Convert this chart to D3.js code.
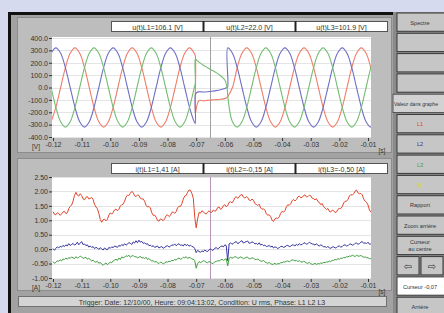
<!DOCTYPE html>
<html>
<head>
<meta charset="utf-8">
<script src="https://cdn.jsdelivr.net/npm/d3@7"></script>
<style>
  body { margin: 0; background: #d6daee; }
  svg { display: block; font-family: "Liberation Sans", Arial, sans-serif; }
</style>
</head>
<body>
<svg width="444" height="313"></svg>
<script>
const svg = d3.select("svg");
const width = +svg.attr("width");
const height = +svg.attr("height");

// ---- voltages (time in ms, value in V) ----
const uTimeMs = [
  -120.67, -119, -117.33, -115.67, -114, -112.33, -110.67, -109, -107.33, -105.67, -104, -102.33,
  -100.67, -99, -97.33, -95.67, -94, -92.33, -90.67, -89, -87.33, -85.67, -84, -82.33,
  -80.67, -79, -77.33, -75.67, -74, -72.33, -70.67,
  -70.3, -70.3, -69.8, -69, -67.5, -66, -64.5, -63, -61.5, -60, -59.3, -59, -59,
  -57.33, -55.67, -54, -52.33, -50.67, -49, -47.33, -45.67, -44, -42.33, -40.67, -39,
  -37.33, -35.67, -34, -32.33, -30.67, -29, -27.33, -25.67, -24, -22.33, -20.67, -19,
  -17.33, -15.67, -14, -12.33, -10.67, -9, -7.33
];
const uL1 = [
  -277, -160, 0, 160, 277, 320, 277, 160, 0, -160, -277, -320,
  -277, -160, 0, 160, 277, 320, 277, 160, 0, -160, -277, -320,
  -277, -160, 0, 160, 277, 320, 277,
  255, -210, -150, -105, -108, -104, -100, -98, -95, -90, -80, -75, -75,
  0, 160, 277, 320, 277, 160, 0, -160, -277, -320, -277, -160,
  0, 160, 277, 320, 277, 160, 0, -160, -277, -320, -277, -160,
  0, 160, 277, 320, 277, 160, 0
];
const uL2 = [
  277, 320, 277, 160, 0, -160, -277, -320, -277, -160, 0, 160,
  277, 320, 277, 160, 0, -160, -277, -320, -277, -160, 0, 160,
  277, 320, 277, 160, 0, -160, -277,
  -290, -60, -40, -35, -36, -34, -30, -25, -18, -8, 0, 5, 320,
  277, 160, 0, -160, -277, -320, -277, -160, 0, 160, 277, 320,
  277, 160, 0, -160, -277, -320, -277, -160, 0, 160, 277, 320,
  277, 160, 0, -160, -277, -320, -277
];
const uL3 = [
  0, -160, -277, -320, -277, -160, 0, 160, 277, 320, 277, 160,
  0, -160, -277, -320, -277, -160, 0, 160, 277, 320, 277, 160,
  0, -160, -277, -320, -277, -160, 0,
  35, 230, 220, 205, 180, 160, 140, 120, 95, 60, 10, -60, -60,
  -277, -320, -277, -160, 0, 160, 277, 320, 277, 160, 0, -160,
  -277, -320, -277, -160, 0, 160, 277, 320, 277, 160, 0, -160,
  -277, -320, -277, -160, 0, 160, 277
];

// ---- currents, one sample every 0.5 ms from iStartMs (value in A) ----
const iStartMs = -120;
const iStepMs = 0.5;
const iL1 = [
  1.30, 1.21, 1.19, 1.26, 1.24, 1.17, 1.22, 1.29, 1.31, 1.23, 1.26, 1.40, 1.48, 1.53, 1.66, 1.86,
  1.97, 1.87, 1.84, 1.92, 1.86, 1.74, 1.71, 1.80, 1.82, 1.74, 1.76, 1.79, 1.73, 1.55, 1.46, 1.40,
  1.24, 1.03, 0.93, 1.02, 1.04, 0.98, 1.03, 1.18, 1.26, 1.21, 1.27, 1.36, 1.39, 1.33, 1.38, 1.49,
  1.54, 1.56, 1.66, 1.80, 1.87, 1.86, 1.93, 2.00, 1.96, 1.85, 1.82, 1.88, 1.86, 1.76, 1.74, 1.74,
  1.66, 1.52, 1.46, 1.48, 1.43, 1.26, 1.17, 1.18, 1.11, 0.99, 0.97, 1.05, 1.02, 0.99, 1.05, 1.16,
  1.19, 1.13, 1.17, 1.27, 1.29, 1.24, 1.30, 1.43, 1.49, 1.48, 1.57, 1.74, 1.84, 1.86, 1.97, 2.05,
  2.04, 1.93, 1.76, 1.10, 0.74, 1.05, 1.27, 1.25, 1.33, 1.30, 1.24, 1.22, 1.28, 1.33, 1.27, 1.28,
  1.36, 1.31, 1.34, 1.44, 1.46, 1.38, 1.41, 1.51, 1.54, 1.47, 1.51, 1.62, 1.64, 1.60, 1.67, 1.78,
  1.82, 1.76, 1.81, 1.88, 1.89, 1.80, 1.77, 1.82, 1.79, 1.70, 1.68, 1.74, 1.69, 1.58, 1.55, 1.51,
  1.56, 1.43, 1.38, 1.40, 1.35, 1.22, 1.18, 1.19, 1.13, 1.00, 0.96, 1.05, 1.08, 1.06, 1.12, 1.24,
  1.31, 1.28, 1.33, 1.47, 1.54, 1.52, 1.57, 1.68, 1.72, 1.67, 1.72, 1.81, 1.84, 1.78, 1.79, 1.86,
  1.88, 1.81, 1.82, 1.87, 1.85, 1.76, 1.75, 1.71, 1.75, 1.65, 1.62, 1.54, 1.58, 1.47, 1.42, 1.37,
  1.41, 1.31, 1.29, 1.35, 1.33, 1.27, 1.29, 1.38, 1.41, 1.41, 1.47, 1.60, 1.66, 1.66, 1.72, 1.84,
  1.89, 1.87, 1.92, 2.01, 2.05, 1.95, 1.92, 1.93, 1.88, 1.74, 1.66, 1.62, 1.53, 1.36, 1.28
];
const iL2 = [
  0.02, -0.04, 0.03, 0.08, 0.04, 0.10, 0.07, 0.13, 0.09, 0.15, 0.11, 0.19, 0.13, 0.16, 0.20, 0.14,
  0.17, 0.24, 0.15, 0.21, 0.26, 0.16, 0.18, 0.12, 0.15, 0.07, 0.11, 0.06, 0.09, 0.02, 0.06, 0.04,
  -0.01, 0.05, 0.01, -0.03, 0.04, 0.00, -0.02, 0.06, 0.03, 0.08, 0.05, 0.11, 0.09, 0.06, 0.13, 0.10,
  0.16, 0.12, 0.19, 0.14, 0.17, 0.23, 0.20, 0.16, 0.25, 0.21, 0.29, 0.22, 0.31, 0.24, 0.27, 0.20,
  0.22, 0.17, 0.19, 0.12, 0.14, 0.09, 0.12, 0.06, 0.08, 0.11, 0.04, 0.07, 0.09, 0.03, 0.06, 0.10,
  0.12, 0.07, 0.10, 0.15, 0.13, 0.18, 0.12, 0.16, 0.19, 0.13, 0.15, 0.11, 0.18, 0.12, 0.16, 0.10,
  0.14, 0.09, 0.08, 0.02, -0.12, -0.04, -0.08, -0.11, -0.06, -0.09, -0.03, -0.07, -0.08, -0.02, 0.01, -0.04,
  -0.03, 0.03, 0.05, 0.01, 0.04, 0.09, 0.11, 0.08, 0.15, 0.12, -0.40, 0.18, 0.22, 0.17, 0.20, 0.24,
  0.26, 0.19, 0.22, 0.27, 0.29, 0.21, 0.24, 0.26, 0.28, 0.20, 0.22, 0.25, 0.23, 0.18, 0.20, 0.16,
  0.22, 0.14, 0.17, 0.12, 0.14, 0.09, 0.10, 0.13, 0.07, 0.11, 0.04, 0.08, 0.06, 0.02, 0.05, 0.09,
  0.10, 0.06, 0.08, 0.12, 0.13, 0.09, 0.10, 0.15, 0.14, 0.11, 0.17, 0.13, 0.19, 0.15, 0.16, 0.21,
  0.22, 0.17, 0.19, 0.24, 0.21, 0.18, 0.17, 0.14, 0.19, 0.13, 0.11, 0.15, 0.12, 0.08, 0.09, 0.05,
  0.10, 0.04, 0.03, 0.07, 0.08, 0.04, 0.05, 0.10, 0.11, 0.07, 0.09, 0.14, 0.15, 0.11, 0.12, 0.17,
  0.18, 0.14, 0.15, 0.20, 0.21, 0.17, 0.19, 0.24, 0.26, 0.20, 0.22, 0.19, 0.24, 0.17, 0.18
];
const iL3 = [
  -0.43, -0.49, -0.46, -0.40, -0.42, -0.37, -0.41, -0.34, -0.36, -0.31, -0.35, -0.29, -0.32, -0.27, -0.30, -0.33,
  -0.26, -0.31, -0.29, -0.24, -0.27, -0.32, -0.30, -0.28, -0.35, -0.31, -0.37, -0.41, -0.38, -0.44, -0.45, -0.42,
  -0.49, -0.46, -0.52, -0.56, -0.51, -0.48, -0.54, -0.49, -0.45, -0.47, -0.41, -0.38, -0.35, -0.39, -0.31, -0.36,
  -0.27, -0.30, -0.28, -0.23, -0.25, -0.21, -0.28, -0.24, -0.22, -0.27, -0.26, -0.30, -0.28, -0.25, -0.31, -0.29,
  -0.33, -0.28, -0.36, -0.32, -0.38, -0.41, -0.40, -0.45, -0.43, -0.47, -0.50, -0.45, -0.47, -0.51, -0.48, -0.44,
  -0.45, -0.42, -0.43, -0.39, -0.40, -0.36, -0.38, -0.33, -0.31, -0.35, -0.33, -0.28, -0.30, -0.26, -0.32, -0.29,
  -0.30, -0.35, -0.34, -0.40, -0.66, -0.50, -0.43, -0.47, -0.44, -0.40, -0.42, -0.46, -0.47, -0.43, -0.45, -0.50,
  -0.49, -0.44, -0.43, -0.40, -0.41, -0.38, -0.35, -0.39, -0.36, -0.33, -0.58, -0.32, -0.28, -0.31, -0.30, -0.26,
  -0.27, -0.32, -0.30, -0.27, -0.29, -0.33, -0.31, -0.28, -0.28, -0.34, -0.33, -0.30, -0.31, -0.36, -0.36, -0.34,
  -0.38, -0.41, -0.42, -0.39, -0.44, -0.47, -0.49, -0.46, -0.50, -0.53, -0.52, -0.49, -0.53, -0.50, -0.51, -0.47,
  -0.47, -0.44, -0.45, -0.42, -0.41, -0.44, -0.40, -0.37, -0.38, -0.41, -0.39, -0.43, -0.40, -0.44, -0.45, -0.42,
  -0.44, -0.48, -0.49, -0.46, -0.50, -0.53, -0.52, -0.49, -0.53, -0.50, -0.51, -0.48, -0.49, -0.46, -0.47, -0.44,
  -0.45, -0.41, -0.43, -0.39, -0.39, -0.36, -0.37, -0.33, -0.35, -0.31, -0.32, -0.29, -0.30, -0.26, -0.27, -0.24,
  -0.25, -0.21, -0.23, -0.26, -0.21, -0.24, -0.24, -0.22, -0.25, -0.28, -0.27, -0.30, -0.30, -0.33, -0.33
];

// ---- ticks and labels ----
const timeTicks = [-0.12, -0.11, -0.10, -0.09, -0.08, -0.07, -0.06, -0.05, -0.04, -0.03, -0.02, -0.01];
const uTicks = [400, 300, 200, 100, 0, -100, -200, -300, -400];
const iTicks = [2.5, 2.0, 1.5, 1.0, 0.5, 0.0, -0.5, -1.0];
const uReadings = ["u(t)L1=106.1 [V]", "u(t)L2=22.0 [V]", "u(t)L3=101.9 [V]"];
const iReadings = ["i(t)L1=1,41 [A]", "i(t)L2=-0,15 [A]", "i(t)L3=-0,50 [A]"];
const cursorMs = -65.3;
const triggerText = "Trigger:  Date: 12/10/00,  Heure: 09:04:13:02,  Condition: U rms,  Phase: L1 L2 L3";
const buttonLabels = ["Spectre", "", "", "", "Valeur dans graphe", "L1", "L2", "L3", "N",
  "Rapport", "Zoom arrière", "Curseur|au centre", "", "Curseur -0,07", "Arrière"];

const phaseColor = {L1: "#e2452b", L2: "#34349e", L3: "#3f9f3f"};
const phaseColorLight = {L1: "#ef7d68", L2: "#6f6fc6", L3: "#72bd72"};

// ---- scales ----
const plotLeft = 52, plotRight = 371;
const x = d3.scaleLinear().domain([-120, -10]).range([53, 368]);
const yU = d3.scaleLinear().domain([-400, 400]).range([137, 38]);
const yI = d3.scaleLinear().domain([-1, 2.5]).range([278, 177]);

// ---- window chrome ----
svg.append("rect").attr("width", width).attr("height", height).attr("fill", "#d6daee");
svg.append("rect").attr("x", 8).attr("y", 12).attr("width", width - 8).attr("height", height - 12)
  .attr("fill", "#a2a2a2");
svg.append("path").attr("d", `M9.5,${height}V13.5H${width}`)
  .attr("fill", "none").attr("stroke", "#111").attr("stroke-width", 3);

svg.append("rect").attr("x", 17.5).attr("y", 17.5).attr("width", 374).attr("height", 135)
  .attr("fill", "#bdbdbd").attr("stroke", "#8c8c8c");
svg.append("rect").attr("x", 17.5).attr("y", 158.5).attr("width", 374).attr("height", 132)
  .attr("fill", "#bdbdbd").attr("stroke", "#8c8c8c");

function readingBoxes(labels, top) {
  const g = svg.append("g");
  labels.forEach((label, i) => {
    g.append("rect").attr("x", 111.5 + i * 92).attr("y", top + 0.5).attr("width", 92).attr("height", 10)
      .attr("fill", "#fff").attr("stroke", "#555");
    g.append("text").attr("x", 157.5 + i * 92).attr("y", top + 8.5).attr("text-anchor", "middle")
      .attr("font-size", 7).attr("fill", "#333").text(label);
  });
  g.selectAll("line").data([203, 295]).enter().append("line")
    .attr("x1", d => d + 0.5).attr("x2", d => d + 0.5).attr("y1", top).attr("y2", top + 11)
    .attr("stroke", "#222").attr("stroke-width", 2);
}
readingBoxes(uReadings, 21);
readingBoxes(iReadings, 163);

function plotFrame(y, top, bottom, ticks, fmt, unit, id) {
  const g = svg.append("g");
  g.append("rect").attr("x", plotLeft).attr("y", top).attr("width", plotRight - plotLeft)
    .attr("height", bottom - top).attr("fill", "#fff");
  g.append("clipPath").attr("id", id).append("rect")
    .attr("x", plotLeft).attr("y", top).attr("width", plotRight - plotLeft).attr("height", bottom - top);

  g.append("g").selectAll("line").data(ticks).enter().append("line")
    .attr("x1", plotLeft).attr("x2", plotRight)
    .attr("y1", d => Math.round(y(d)) + 0.5).attr("y2", d => Math.round(y(d)) + 0.5)
    .attr("stroke", "#e4e4e4");

  const ya = g.append("g").attr("transform", `translate(${plotLeft},0)`)
    .call(d3.axisLeft(y).tickValues(ticks).tickSize(3).tickPadding(1).tickFormat(fmt));
  const xa = g.append("g").attr("transform", `translate(0,${bottom})`)
    .call(d3.axisBottom(x).tickValues(timeTicks.map(t => t * 1000)).tickSize(3).tickPadding(1)
      .tickFormat(d => (d / 1000).toFixed(2)));
  [ya, xa].forEach(a => {
    a.select(".domain").remove();
    a.attr("font-size", 7).attr("font-family", null);
    a.selectAll("line").attr("stroke", "#333");
    a.selectAll("text").attr("fill", "#333");
  });

  g.append("text").attr("x", 36).attr("y", bottom + 11).attr("text-anchor", "middle")
    .attr("font-size", 6.5).attr("fill", "#333").text(unit);
  g.append("text").attr("x", 382).attr("y", bottom + 15).attr("text-anchor", "middle")
    .attr("font-size", 6.5).attr("fill", "#333").text("[s]");
  return g;
}

// ---- upper graph: voltages ----
const gU = plotFrame(yU, 37, 138, uTicks, d => d.toFixed(1), "[V]", "clipU");
gU.append("line").attr("x1", Math.round(x(cursorMs)) + 0.5).attr("x2", Math.round(x(cursorMs)) + 0.5)
  .attr("y1", 37).attr("y2", 138).attr("stroke", "#a0a0a0");
const uLine = d3.line().x((d, i) => x(uTimeMs[i])).y(d => yU(d)).curve(d3.curveCatmullRom.alpha(0.5));
[["L1", uL1], ["L2", uL2], ["L3", uL3]].forEach(([k, vals]) => {
  gU.append("path").attr("clip-path", "url(#clipU)").attr("d", uLine(vals))
    .attr("fill", "none").attr("stroke", phaseColorLight[k]).attr("stroke-width", 1.1);
});

// ---- lower graph: currents ----
const gI = plotFrame(yI, 177, 279, iTicks, d => d.toFixed(2), "[A]", "clipI");
gI.append("line").attr("x1", Math.round(x(cursorMs)) + 0.5).attr("x2", Math.round(x(cursorMs)) + 0.5)
  .attr("y1", 177).attr("y2", 279).attr("stroke", "#b995bd");
const iLine = d3.line().x((d, i) => x(iStartMs + i * iStepMs)).y(d => yI(d));
[["L1", iL1], ["L2", iL2], ["L3", iL3]].forEach(([k, vals]) => {
  gI.append("path").attr("clip-path", "url(#clipI)").attr("d", iLine(vals))
    .attr("fill", "none").attr("stroke", phaseColor[k]).attr("stroke-width", 1);
});

// ---- trigger status bar ----
svg.append("rect").attr("x", 18.5).attr("y", 296.5).attr("width", 368).attr("height", 10)
  .attr("fill", "#d4d4d4").attr("stroke", "#707070");
svg.append("text").attr("x", 202).attr("y", 304.5).attr("text-anchor", "middle")
  .attr("font-size", 7).attr("fill", "#333").text(triggerText);

// ---- button column ----
const colX = 396;
const rowH = 20.3;
svg.append("rect").attr("x", colX - 3).attr("y", 12).attr("width", width - colX + 3).attr("height", height - 12)
  .attr("fill", "#8a8a8a");
const btnColor = {L1: phaseColor.L1, L2: phaseColor.L2, L3: phaseColor.L3, N: "#e0d800"};
buttonLabels.forEach((label, i) => {
  const top = 12 + i * rowH;
  const g = svg.append("g");
  if (i === 12) {
    // two arrow buttons
    [0, 1].forEach(j => {
      g.append("rect").attr("x", colX + 1 + j * 24).attr("y", top + 1).attr("width", 22).attr("height", rowH - 2)
        .attr("fill", "#c6c6c6").attr("stroke", "#3a3a3a");
      g.append("text").attr("x", colX + 12 + j * 24).attr("y", top + 14).attr("text-anchor", "middle")
        .attr("font-family", "DejaVu Sans").attr("font-size", 10).attr("fill", "#333")
        .text(j ? "\u21e8" : "\u21e6");
    });
    return;
  }
  const wide = i === 4;
  const bx = wide ? colX - 3 : colX + 1;
  g.append("rect").attr("x", bx).attr("y", top + 1).attr("width", width - bx + 5).attr("height", rowH - 2)
    .attr("fill", i === 13 ? "#ffffff" : wide ? "#d2d2d2" : "#c6c6c6")
    .attr("stroke", wide ? "#555" : "#3a3a3a");
  const lines = label.split("|");
  lines.forEach((t, j) => {
    const txt = g.append("text").attr("x", wide ? bx + 1 : colX + 24)
      .attr("y", top + rowH / 2 + 2.5 + (j - (lines.length - 1) / 2) * 7)
      .attr("text-anchor", wide ? "start" : "middle")
      .attr("font-size", 5.6).attr("fill", btnColor[t] || "#333").text(t);
    if (wide) txt.attr("textLength", 44).attr("lengthAdjust", "spacingAndGlyphs");
  });
});
</script>
</body>
</html>
